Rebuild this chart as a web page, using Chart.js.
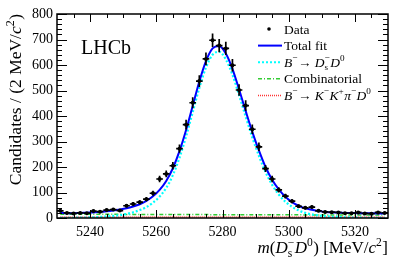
<!DOCTYPE html>
<html>
<head>
<meta charset="utf-8">
<script src="https://cdn.jsdelivr.net/npm/chart.js@4.4.1/dist/chart.umd.min.js"></script>
<style>
  html, body { margin: 0; padding: 0; background: #fff; }
  #wrap { width: 409px; height: 261px; position: relative; }
</style>
</head>
<body>
<div id="wrap"><canvas id="massChart" width="409" height="261"></canvas></div>
<script>
// bin centres, 2 MeV bins
const massBins = [5231, 5233, 5235, 5237, 5239, 5241, 5243, 5245, 5247, 5249,
                  5251, 5253, 5255, 5257, 5259, 5261, 5263, 5265, 5267, 5269,
                  5271, 5273, 5275, 5277, 5279, 5281, 5283, 5285, 5287, 5289,
                  5291, 5293, 5295, 5297, 5299, 5301, 5303, 5305, 5307, 5309,
                  5311, 5313, 5315, 5317, 5319, 5321, 5323, 5325, 5327, 5329];
const candidates = [28, 20, 18, 20, 19, 27, 25, 31, 33, 29,
                    48, 55, 62, 74, 97, 153, 173, 205, 272, 366,
                    452, 537, 624, 697, 676, 665, 599, 502, 441, 348,
                    279, 194, 153, 110, 86, 66, 46, 40, 43, 28,
                    24, 23, 22, 19, 19, 22, 18, 17, 22, 20];
const totalFit = [20, 19, 19, 20, 21, 22, 24, 26, 29, 33,
                  38, 45, 54, 67, 85, 110, 145, 195, 262, 345,
                  440, 535, 615, 665, 675, 645, 585, 505, 420, 338,
                  265, 200, 150, 112, 83, 62, 48, 38, 32, 27,
                  24, 22, 21, 20, 19.5, 19, 19, 18.5, 18, 18];
const signalFit = [1, 1, 1, 2, 2, 3, 4, 6, 8, 11,
                   16, 22, 31, 43, 60, 84, 118, 168, 236, 320,
                   415, 510, 590, 640, 652, 622, 562, 482, 398, 316,
                   244, 180, 130, 92, 64, 44, 30, 20, 14, 10,
                   7, 5, 4, 3, 2, 2, 1, 1, 1, 1];
const combinatorial = [15, 15, 15, 15, 15, 14.5, 14.5, 14.5, 14.5, 14.5,
                       14, 14, 14, 14, 14, 14, 14, 13.5, 13.5, 13.5,
                       13.5, 13.5, 13.5, 13, 13, 13, 13, 13, 13, 13,
                       12.5, 12.5, 12.5, 12.5, 12.5, 12.5, 12.5, 12, 12, 12,
                       12, 12, 12, 12, 11.5, 11.5, 11.5, 11.5, 11.5, 11.5];
const kkpiBkg = [4, 4, 4, 4, 4, 4, 4, 4, 4, 4,
                 4, 4, 4, 4, 4, 4, 4, 4, 4, 4,
                 4, 4, 4, 4, 4, 4, 4, 4, 4, 4,
                 4, 4, 4, 4, 4, 4, 4, 4, 4, 4,
                 4, 4, 4, 4, 4, 4, 4, 4, 4, 4];
const xTicks = [5240, 5260, 5280, 5300, 5320];
const yTicks = [0, 100, 200, 300, 400, 500, 600, 700, 800];

const SERIF = "'Liberation Serif', 'Times New Roman', serif";
const toXY = (vals) => massBins.map((m, i) => ({ x: m, y: vals[i] }));

// draw text with sub/superscripts: parts are {t, i} or {sup, sub}
function richWidth(ctx, parts, size) {
    let w = 0;
    parts.forEach(p => {
        if (p.t !== undefined) {
            ctx.font = (p.i ? 'italic ' : '') + size + 'px ' + SERIF;
            w += ctx.measureText(p.t).width;
        } else {
            ctx.font = (size * 0.68) + 'px ' + SERIF;
            const a = p.sup ? ctx.measureText(p.sup).width : 0;
            const b = p.sub ? ctx.measureText(p.sub).width : 0;
            w += Math.max(a, b) + 0.5;
        }
    });
    return w;
}

function drawRich(ctx, parts, x, y, size, align) {
    let cx = align === 'right' ? x - richWidth(ctx, parts, size) : x;
    ctx.textBaseline = 'alphabetic';
    ctx.textAlign = 'left';
    parts.forEach(p => {
        if (p.t !== undefined) {
            ctx.font = (p.i ? 'italic ' : '') + size + 'px ' + SERIF;
            ctx.fillText(p.t, cx, y);
            cx += ctx.measureText(p.t).width;
        } else {
            ctx.font = (size * 0.68) + 'px ' + SERIF;
            let w = 0;
            if (p.sup) {
                ctx.fillText(p.sup, cx, y - size * 0.42);
                w = ctx.measureText(p.sup).width;
            }
            if (p.sub) {
                ctx.fillText(p.sub, cx, y + size * 0.22);
                w = Math.max(w, ctx.measureText(p.sub).width);
            }
            cx += w + 0.5;
        }
    });
}

const dsD0 = [{ t: 'D', i: 1 }, { sub: 's', sup: '\u2212' }, { t: 'D', i: 1 }, { sup: '0' }];

const legendRows = [
    { kind: 'dot', parts: [{ t: 'Data' }] },
    { kind: 'line', color: '#0000ff', dash: [], width: 2, parts: [{ t: 'Total fit' }] },
    { kind: 'line', color: '#00ffff', dash: [2, 2], width: 2,
      parts: [{ t: 'B', i: 1 }, { sup: '\u2212' }, { t: '\u2192 ' }].concat(dsD0) },
    { kind: 'line', color: '#33cc33', dash: [4, 2, 1, 2], width: 1.5, parts: [{ t: 'Combinatorial' }] },
    { kind: 'line', color: '#ff3333', dash: [1, 1], width: 1.5,
      parts: [{ t: 'B', i: 1 }, { sup: '\u2212' }, { t: '\u2192 ' }, { t: 'K', i: 1 }, { sup: '\u2212' },
              { t: 'K', i: 1 }, { sup: '+' }, { t: '\u03c0', i: 1 }, { sup: '\u2212' },
              { t: 'D', i: 1 }, { sup: '0' }] }
];

const lhcbPlot = {
    id: 'lhcbPlot',
    afterDatasetsDraw(chart) {
        // error bars on the data points
        const ctx = chart.ctx;
        const xs = chart.scales.x, ys = chart.scales.y;
        ctx.save();
        ctx.strokeStyle = '#000';
        ctx.lineWidth = 1.7;
        massBins.forEach((m, i) => {
            const n = candidates[i];
            const err = Math.sqrt(n);
            const px = xs.getPixelForValue(m);
            const py = ys.getPixelForValue(n);
            ctx.beginPath();
            ctx.moveTo(xs.getPixelForValue(m - 1), py);
            ctx.lineTo(xs.getPixelForValue(m + 1), py);
            ctx.moveTo(px, ys.getPixelForValue(n - err));
            ctx.lineTo(px, ys.getPixelForValue(n + err));
            ctx.stroke();
        });
        ctx.restore();
    },
    afterDraw(chart) {
        const ctx = chart.ctx;
        const a = chart.chartArea;
        const xs = chart.scales.x, ys = chart.scales.y;
        ctx.save();
        ctx.fillStyle = '#000';
        ctx.strokeStyle = '#000';

        // frame
        ctx.lineWidth = 1.5;
        ctx.strokeRect(a.left, a.top, a.right - a.left, a.bottom - a.top);

        // inward ticks on all four sides
        ctx.lineWidth = 1;
        ctx.beginPath();
        for (let v = 0; v <= 800; v += 20) {
            const py = Math.round(ys.getPixelForValue(v)) + 0.5;
            const len = v % 100 === 0 ? 10 : 5;
            ctx.moveTo(a.left, py); ctx.lineTo(a.left + len, py);
            ctx.moveTo(a.right, py); ctx.lineTo(a.right - len, py);
        }
        for (let v = 5235; v < 5330; v += 5) {
            const px = Math.round(xs.getPixelForValue(v)) + 0.5;
            const len = (v - 5240) % 20 === 0 ? 8 : 4;
            ctx.moveTo(px, a.bottom); ctx.lineTo(px, a.bottom - len);
            ctx.moveTo(px, a.top); ctx.lineTo(px, a.top + len);
        }
        ctx.stroke();

        // LHCb label
        ctx.font = '20px ' + SERIF;
        ctx.textAlign = 'left';
        ctx.textBaseline = 'alphabetic';
        ctx.fillText('LHCb', 81, 54);

        // legend
        legendRows.forEach((row, k) => {
            const y = 29 + k * 16.6;
            if (row.kind === 'dot') {
                ctx.beginPath();
                ctx.arc(269, y, 1.8, 0, Math.PI * 2);
                ctx.fill();
            } else {
                ctx.save();
                ctx.strokeStyle = row.color;
                ctx.lineWidth = row.width;
                ctx.setLineDash(row.dash);
                ctx.beginPath();
                ctx.moveTo(258, y);
                ctx.lineTo(282, y);
                ctx.stroke();
                ctx.restore();
            }
            drawRich(ctx, row.parts, 284, y + 4.5, 13.5, 'left');
        });

        // x axis title
        drawRich(ctx, [{ t: 'm', i: 1 }, { t: '(' }].concat(dsD0,
            [{ t: ') [MeV/' }, { t: 'c', i: 1 }, { sup: '2' }, { t: ']' }]),
            a.right, 253, 17, 'right');

        // y axis title, rotated, aligned to the top of the frame
        ctx.save();
        ctx.translate(21, a.top);
        ctx.rotate(-Math.PI / 2);
        drawRich(ctx, [{ t: 'Candidates / (2 MeV/' }, { t: 'c', i: 1 }, { sup: '2' }, { t: ')' }],
            0, 0, 17.5, 'right');
        ctx.restore();

        ctx.restore();
    }
};

const ctx = document.getElementById('massChart').getContext('2d');
new Chart(ctx, {
    type: 'line',
    data: {
        datasets: [
            {
                label: 'Data',
                data: toXY(candidates),
                showLine: false,
                pointRadius: 2,
                pointBackgroundColor: '#000',
                pointBorderWidth: 0
            },
            {
                label: 'Total fit',
                data: toXY(totalFit),
                borderColor: '#0000ff',
                borderWidth: 2,
                pointRadius: 0,
                cubicInterpolationMode: 'monotone'
            },
            {
                label: 'Signal',
                data: toXY(signalFit),
                borderColor: '#00ffff',
                borderWidth: 2.2,
                borderDash: [2, 2],
                pointRadius: 0,
                cubicInterpolationMode: 'monotone'
            },
            {
                label: 'Combinatorial',
                data: toXY(combinatorial),
                borderColor: '#33cc33',
                borderWidth: 1.5,
                borderDash: [4, 2, 1, 2],
                pointRadius: 0
            },
            {
                label: 'KKpi',
                data: toXY(kkpiBkg),
                borderColor: '#ff3333',
                borderWidth: 1.5,
                borderDash: [1, 1],
                pointRadius: 0
            }
        ]
    },
    options: {
        responsive: false,
        animation: false,
        events: [],
        layout: { padding: { left: 0, top: 14, right: 21, bottom: 0 } },
        plugins: {
            legend: { display: false },
            tooltip: { enabled: false }
        },
        scales: {
            x: {
                type: 'linear',
                min: 5230,
                max: 5330,
                afterFit: (scale) => { scale.height = 43; },
                afterBuildTicks: (scale) => { scale.ticks = xTicks.map(v => ({ value: v })); },
                grid: { display: false, drawTicks: false },
                border: { display: false },
                ticks: {
                    padding: 6,
                    color: '#000',
                    font: { family: SERIF, size: 14 },
                    maxRotation: 0,
                    autoSkip: false,
                    callback: (v) => String(v)
                }
            },
            y: {
                min: 0,
                max: 800,
                afterFit: (scale) => { scale.width = 57; },
                afterBuildTicks: (scale) => { scale.ticks = yTicks.map(v => ({ value: v })); },
                grid: { display: false, drawTicks: false },
                border: { display: false },
                ticks: {
                    padding: 4,
                    color: '#000',
                    font: { family: SERIF, size: 14 },
                    callback: (v) => String(v)
                }
            }
        }
    },
    plugins: [lhcbPlot]
});
</script>
</body>
</html>
